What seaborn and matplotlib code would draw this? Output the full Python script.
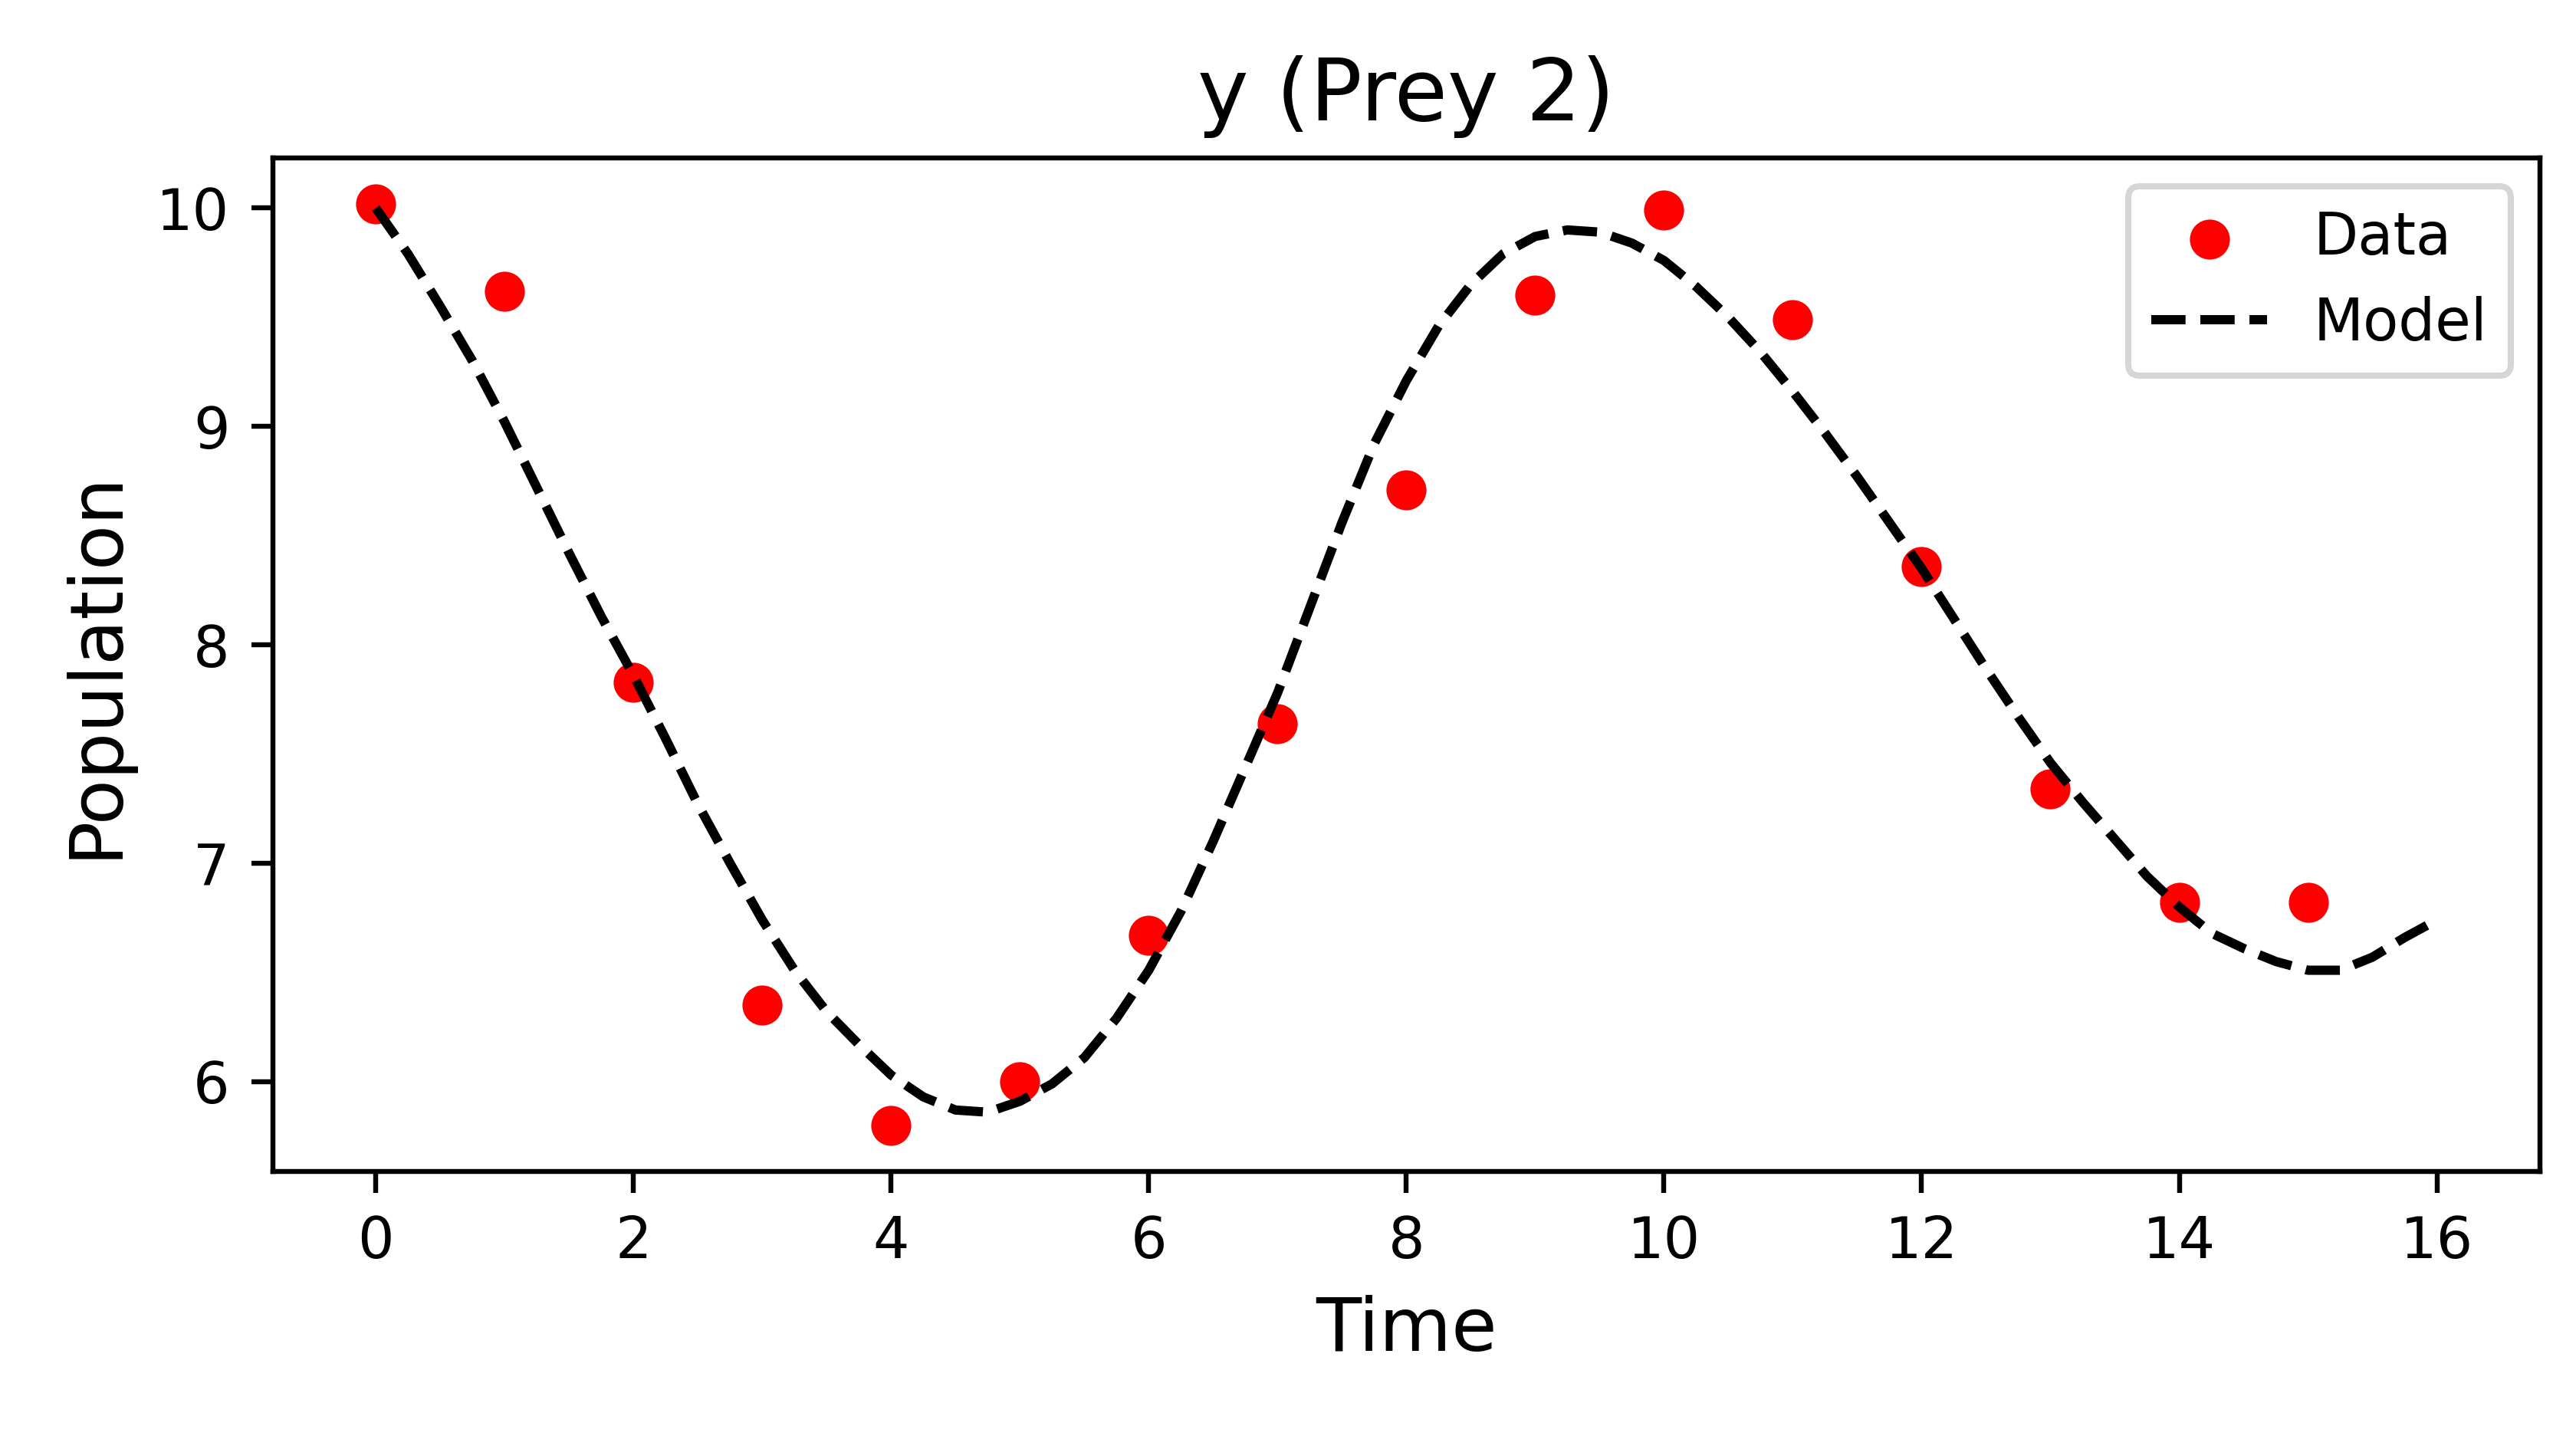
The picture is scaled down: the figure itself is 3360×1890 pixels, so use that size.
import numpy as np
import pandas as pd
import matplotlib
matplotlib.use("Agg")
import matplotlib.pyplot as plt
import seaborn as sns

# --- Data ---
time_obs = [0, 1, 2, 3, 4, 5, 6, 7, 8, 9, 10, 11, 12, 13, 14, 15]
prey2_obs = [10.02, 9.62, 7.83, 6.35, 5.80, 6.00, 6.67, 7.64, 8.71, 9.60,
             9.99, 9.49, 8.36, 7.34, 6.82, 6.82]

time_model = [0.0, 0.25, 0.5, 0.75, 1.0, 1.25, 1.5, 1.75, 2.0, 2.25, 2.5, 2.75,
              3.0, 3.25, 3.5, 3.75, 4.0, 4.25, 4.5, 4.75, 5.0, 5.25, 5.5, 5.75,
              6.0, 6.25, 6.5, 6.75, 7.0, 7.25, 7.5, 7.75, 8.0, 8.25, 8.5, 8.75,
              9.0, 9.25, 9.5, 9.75, 10.0, 10.25, 10.5, 10.75, 11.0, 11.25, 11.5,
              11.75, 12.0, 12.25, 12.5, 12.75, 13.0, 13.25, 13.5, 13.75, 14.0,
              14.25, 14.5, 14.75, 15.0, 15.25, 15.5, 15.75, 16.0]
prey2_model = [10.00, 9.79, 9.55, 9.30, 9.02, 8.72, 8.42, 8.13, 7.86, 7.57, 7.27, 7.00,
               6.74, 6.51, 6.32, 6.17, 6.03, 5.93, 5.87, 5.86, 5.91, 5.99, 6.11, 6.29,
               6.51, 6.78, 7.10, 7.44, 7.78, 8.17, 8.56, 8.92, 9.21, 9.46, 9.65, 9.79,
               9.87, 9.90, 9.89, 9.84, 9.76, 9.64, 9.50, 9.34, 9.16, 8.97, 8.77,
               8.56, 8.35, 8.12, 7.89, 7.67, 7.46, 7.28, 7.11, 6.94, 6.80,
               6.68, 6.61, 6.55, 6.51, 6.51, 6.57, 6.66, 6.74]

obs = pd.DataFrame({"time": time_obs, "population": prey2_obs})
model = pd.DataFrame({"time": time_model, "population": prey2_model})

# --- Plot ---
fig = plt.figure(figsize=(3360 / 580, 1890 / 580), dpi=580)
ax = fig.add_axes([0.1059, 0.1916, 0.986 - 0.1059, 0.8912 - 0.1916])

sns.scatterplot(data=obs, x="time", y="population", color="red", s=42,
                linewidth=0, label="Data", ax=ax)
sns.lineplot(data=model, x="time", y="population", color="black",
             linestyle="--", linewidth=1.5, label="Model", ax=ax)

ax.set_title("y (Prey 2)", fontsize=14)
ax.set_xlabel("Time", fontsize=12)
ax.set_ylabel("Population", fontsize=12)
ax.tick_params(labelsize=9.3)
ax.set_xticks([0, 2, 4, 6, 8, 10, 12, 14, 16])
ax.legend(loc="upper right", fontsize=9.4)

fig.savefig("out.png", dpi=580)
